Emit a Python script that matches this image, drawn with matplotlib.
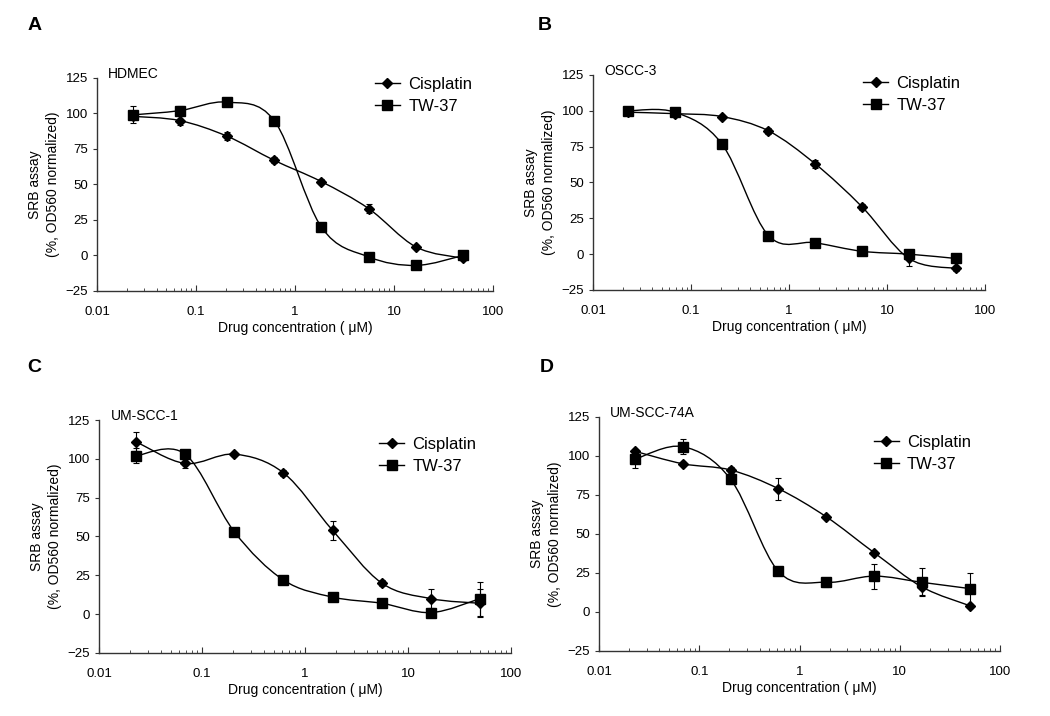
import numpy as np
import matplotlib.pyplot as plt
from matplotlib.path import Path
from matplotlib.patches import PathPatch
from matplotlib.lines import Line2D

plt.rcParams['font.family'] = ['Liberation Sans', 'DejaVu Sans']

# 3-fold dilutions, uM
conc = [0.0229, 0.0686, 0.206, 0.617, 1.85, 5.56, 16.7, 50.0]

panels = ['A', 'B', 'C', 'D']
cells = ['HDMEC', 'OSCC-3', 'UM-SCC-1', 'UM-SCC-74A']

cis_A = [98, 95, 84, 67, 52, 33, 6, -2]
cis_A_err = [2, 3, 3, 2, 2, 3, 1, 1]
tw_A = [99, 102, 108, 95, 20, -1, -7, 0]
tw_A_err = [6, 3, 3, 1, 1, 1, 1, 1]

cis_B = [99, 98, 96, 86, 63, 33, -3, -10]
cis_B_err = [1, 1, 1, 2, 3, 2, 5, 2]
tw_B = [100, 99, 77, 13, 8, 2, 0, -3]
tw_B_err = [1, 1, 1, 1, 1, 1, 1, 1]

cis_C = [111, 97, 103, 91, 54, 20, 10, 7]
cis_C_err = [6, 3, 1, 2, 6, 2, 6, 9]
tw_C = [102, 103, 53, 22, 11, 7, 1, 10]
tw_C_err = [5, 2, 1, 1, 1, 1, 1, 11]

cis_D = [103, 95, 91, 79, 61, 38, 16, 4]
cis_D_err = [1, 1, 2, 7, 1, 1, 5, 1]
tw_D = [98, 106, 85, 26, 19, 23, 19, 15]
tw_D_err = [6, 5, 3, 1, 3, 8, 9, 10]

cis_all = [cis_A, cis_B, cis_C, cis_D]
cis_err_all = [cis_A_err, cis_B_err, cis_C_err, cis_D_err]
tw_all = [tw_A, tw_B, tw_C, tw_D]
tw_err_all = [tw_A_err, tw_B_err, tw_C_err, tw_D_err]

yticks = [-25, 0, 25, 50, 75, 100, 125]

# axes rectangles in figure fraction
rects = [[0.0924, 0.5936, 0.377, 0.2975],
         [0.5648, 0.5950, 0.3733, 0.3003],
         [0.0943, 0.0880, 0.3924, 0.3254],
         [0.5705, 0.0908, 0.3819, 0.3268]]
letter_pos = [(0.026, 0.965), (0.512, 0.965), (0.026, 0.4874), (0.514, 0.4874)]
legend_pos = [(0.357, 0.8924), (0.822, 0.8936), (0.361, 0.3894), (0.832, 0.3924)]


def smooth_path(x, y):
    # excel-like smoothed line: catmull-rom bezier in log-x space
    lx = np.log10(x)
    y = np.asarray(y, float)
    pts = np.column_stack([lx, y])
    n = len(pts)
    verts = [pts[0]]
    codes = [Path.MOVETO]
    for i in range(n - 1):
        p0 = pts[i - 1] if i > 0 else pts[i]
        p1 = pts[i]
        p2 = pts[i + 1]
        p3 = pts[i + 2] if i + 2 < n else pts[i + 1]
        c1 = p1 + (p2 - p0) / 6.0
        c2 = p2 - (p3 - p1) / 6.0
        verts += [c1, c2, p2]
        codes += [Path.CURVE4] * 3
    verts = np.array(verts)
    verts[:, 0] = 10 ** verts[:, 0]
    return Path(verts, codes)


fig = plt.figure(figsize=(10.5, 7.16), dpi=100)

for k in range(4):
    ax = fig.add_axes(rects[k])
    ax.set_xscale('log')
    ax.set_xlim(0.01, 100)
    ax.set_ylim(-25, 125)
    ax.set_yticks(yticks)

    for y, e, mk, ms in [(cis_all[k], cis_err_all[k], 'D', 5.5),
                          (tw_all[k], tw_err_all[k], 's', 6.5)]:
        ax.add_patch(PathPatch(smooth_path(conc, y), fill=False,
                               edgecolor='black', lw=1.0, zorder=2))
        ax.errorbar(conc, y, yerr=e, fmt='none', ecolor='black',
                    elinewidth=0.8, capsize=2.5, capthick=0.8, zorder=3)
        ax.plot(conc, y, linestyle='none', marker=mk, ms=ms,
                color='black', zorder=4)

    for s in ['top', 'right']:
        ax.spines[s].set_visible(False)
    for s in ['left', 'bottom']:
        ax.spines[s].set_color('#333333')
        ax.spines[s].set_linewidth(1.0)
    ax.tick_params(axis='x', which='major', direction='in', length=4,
                   labelsize=9.5, pad=11, color='#333333')
    ax.tick_params(axis='x', which='minor', direction='in', length=2.5,
                   color='#333333')
    ax.tick_params(axis='y', direction='out', length=3, labelsize=9.5,
                   color='#333333')
    ax.set_xticks([0.01, 0.1, 1, 10, 100])
    ax.set_xticklabels(['0.01', '0.1', '1', '10', '100'])

    ax.set_xlabel('Drug concentration ( μM)', fontsize=10, labelpad=2)
    ax.set_ylabel('SRB assay\n(%, OD560 normalized)', fontsize=10,
                  labelpad=4, linespacing=1.35)
    ax.text(0.028, 1.0, cells[k], transform=ax.transAxes, fontsize=10,
            ha='left', va='baseline')

    handles = [Line2D([], [], color='black', lw=1, marker='D', ms=5.5),
               Line2D([], [], color='black', lw=1, marker='s', ms=6.5)]
    fig.legend(handles, ['Cisplatin', 'TW-37'], loc='upper left',
               bbox_to_anchor=legend_pos[k], frameon=False, fontsize=12,
               handlelength=1.5, handletextpad=0.5, labelspacing=0.4,
               borderpad=0, borderaxespad=0)

    fig.text(letter_pos[k][0], letter_pos[k][1], panels[k], fontsize=14,
             fontweight='bold', ha='left', va='center')

fig.savefig('out.png', dpi=100)
